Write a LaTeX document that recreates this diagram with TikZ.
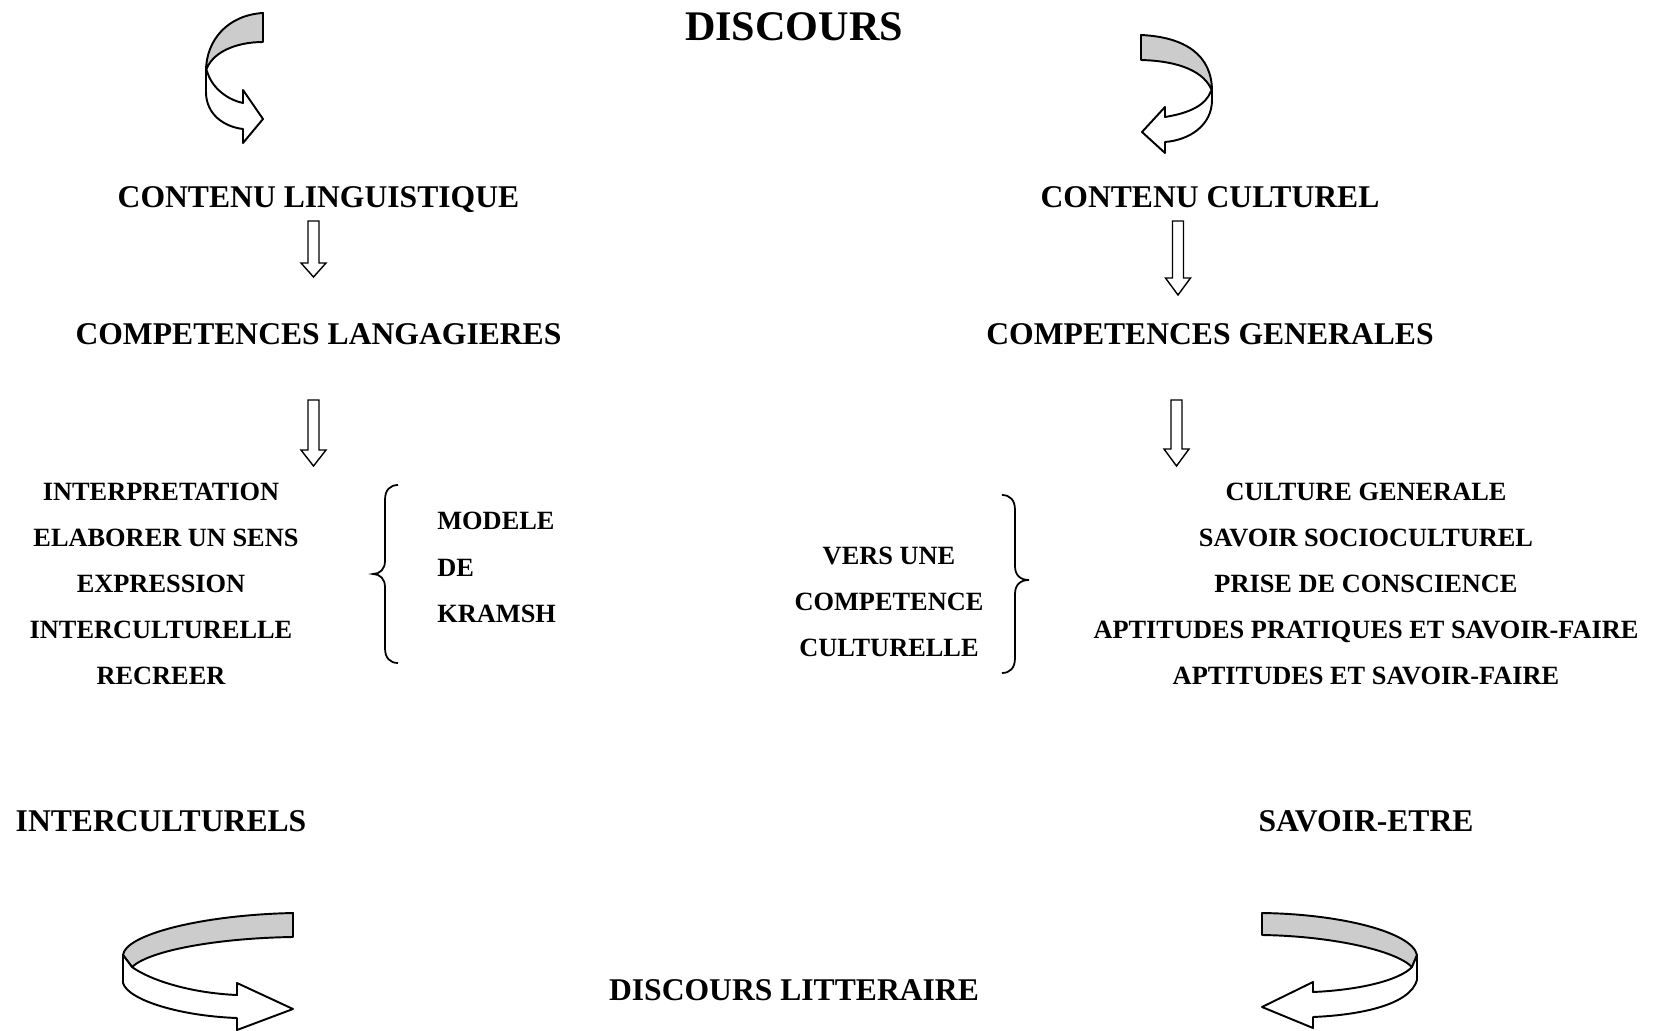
\documentclass[tikz,border=0pt]{standalone}
\usepackage{fontspec}
\setmainfont{Liberation Serif}

\begin{document}
\begin{tikzpicture}[x=0.02cm, y=-0.02cm,
  every node/.style={inner sep=0pt, text depth=0pt},
  titletext/.style={font=\bfseries\fontsize{24}{29}\selectfont},
  bigtext/.style={font=\bfseries\fontsize{18}{22}\selectfont},
  itemtext/.style={font=\bfseries\fontsize{15}{18}\selectfont},
  block/.style={draw, line width=0.8pt, fill=white},
  ribbon/.style={draw, line width=1.1pt, line join=round},
  bracket/.style={draw, line width=1pt}]
  \useasboundingbox (0,0) rectangle (1654,1031);

  \node[titletext] (disc) at (794,27) {DISCOURS};
  \node[bigtext] (ling) at (318.5,197) {CONTENU LINGUISTIQUE};
  \node[bigtext] (cult) at (1210,197) {CONTENU CULTUREL};
  \node[bigtext] (lang) at (318.5,334) {COMPETENCES LANGAGIERES};
  \node[bigtext] (gen) at (1210,334) {COMPETENCES GENERALES};
  \node[bigtext] (inter) at (161,821) {INTERCULTURELS};
  \node[bigtext] (etre) at (1366,821) {SAVOIR-ETRE};
  \node[bigtext] (litt) at (794,990) {DISCOURS LITTERAIRE};

  % lists
  \foreach \t/\dx [count=\i] in {INTERPRETATION/0, ELABORER UN SENS/5, EXPRESSION/0, INTERCULTURELLE/0, RECREER/0}
    \node[itemtext] (L\i) at (161+\dx,{491.5+46*(\i-1)}) {\t};
  \foreach \t [count=\i] in {CULTURE GENERALE, SAVOIR SOCIOCULTUREL, PRISE DE CONSCIENCE, APTITUDES PRATIQUES ET SAVOIR-FAIRE, APTITUDES ET SAVOIR-FAIRE}
    \node[itemtext] (R\i) at (1366,{491.5+46*(\i-1)}) {\t};
  \foreach \t [count=\i] in {MODELE, DE, KRAMSH}
    \node[itemtext, anchor=west] (K\i) at (437,{521+46.5*(\i-1)}) {\t};
  \foreach \t [count=\i] in {VERS UNE, COMPETENCE, CULTURELLE}
    \node[itemtext] (V\i) at (889,{556+46*(\i-1)}) {\t};

  % hollow down arrows
  \foreach \x/\a/\b/\c in {313.5/221/263/277, 1178/221/278/295, 313.5/400/450/466, 1176.5/400/449/466}
    \draw[block] (\x-5.5,\a) -- (\x+5.5,\a) -- (\x+5.5,\b) -- (\x+12.5,\b) -- (\x,\c)
      -- (\x-12.5,\b) -- (\x-5.5,\b) -- cycle;

  % braces
  \draw[bracket] (398,485) .. controls (390,485) and (385,490) .. (385,500) -- (385,561)
    .. controls (385,569) and (380,574) .. (373,574) .. controls (380,574) and (385,579) .. (385,587)
    -- (385,648) .. controls (385,658) and (390,663) .. (398,663);
  \draw[bracket] (1002,495) .. controls (1010,495) and (1015,500) .. (1015,510) -- (1015,566)
    .. controls (1015,575) and (1020,580) .. (1029,580) .. controls (1020,580) and (1015,585) .. (1015,594)
    -- (1015,658) .. controls (1015,668) and (1010,673) .. (1002,673);

  % curved arrows, top
  \draw[ribbon, fill=black!20] (263,13) .. controls (228,15) and (206,40) .. (206,71)
    .. controls (211,53) and (235,42) .. (263,42) -- cycle;
  \draw[ribbon, fill=white] (206,71) -- (206,92) .. controls (206,115) and (225,127) .. (243,129)
    -- (243,143) -- (263,119) -- (243,90) -- (243,103) .. controls (225,99) and (211,86) .. (207,71) -- cycle;
  \draw[ribbon, fill=black!20] (1141,35) .. controls (1185,37) and (1212,55) .. (1212,91)
    .. controls (1205,72) and (1180,61) .. (1141,60) -- cycle;
  \draw[ribbon, fill=white] (1212,91) -- (1212,100) .. controls (1212,125) and (1190,140) .. (1165,142)
    -- (1165,153) -- (1142,132) -- (1165,107) -- (1165,117) .. controls (1190,113) and (1206,105) .. (1211,91) -- cycle;

  % curved arrows, bottom
  \draw[ribbon, fill=black!20] (293,913) .. controls (200,915) and (125,935) .. (123,955) -- (132,967)
    .. controls (150,950) and (220,938) .. (293,937) -- cycle;
  \draw[ribbon, fill=white] (123,955) -- (123,983) .. controls (128,1000) and (180,1016) .. (237,1018)
    -- (237,1030) -- (293,1009) -- (237,983) -- (237,995) .. controls (190,993) and (150,980) .. (132,967) -- cycle;
  \draw[ribbon, fill=black!20] (1262,913) .. controls (1340,914) and (1412,932) .. (1417,955) -- (1412,967)
    .. controls (1395,950) and (1330,936) .. (1262,935) -- cycle;
  \draw[ribbon, fill=white] (1417,955) -- (1417,980) .. controls (1410,1005) and (1360,1015) .. (1313,1017)
    -- (1313,1028) -- (1262,1007) -- (1313,982) -- (1313,992) .. controls (1360,990) and (1400,980) .. (1412,967) -- cycle;
\end{tikzpicture}
\end{document}
